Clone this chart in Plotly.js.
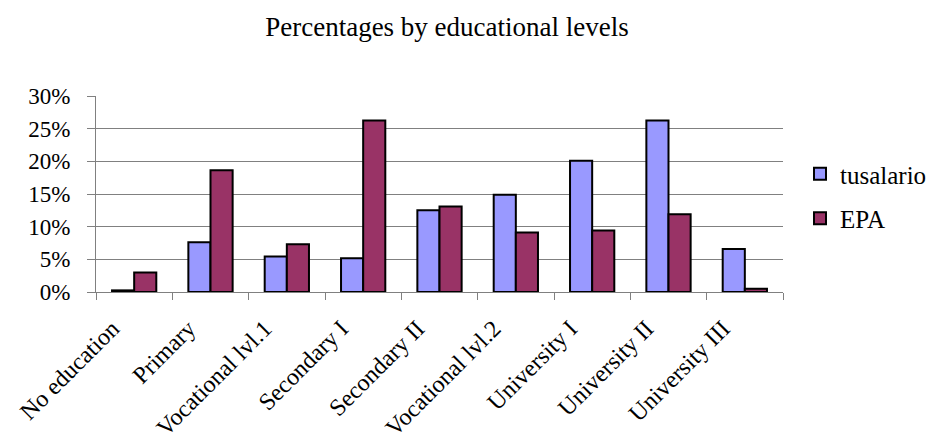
<!DOCTYPE html>
<html>
<head>
<meta charset="utf-8">
<script src="https://cdn.plot.ly/plotly-3.0.1.min.js"></script>
<style>html,body{margin:0;padding:0;background:#fff;}#chart{width:930px;height:445px;}</style>
</head>
<body>
<div id="chart"></div>
<script>
const categories = ["No education", "Primary", "Vocational lvl.1", "Secondary I", "Secondary II", "Vocational lvl.2", "University I", "University II", "University III"];
const tusalario = [0.0025, 0.076, 0.0545, 0.0515, 0.125, 0.149, 0.201, 0.2625, 0.066];
const epa = [0.030, 0.1865, 0.073, 0.2625, 0.131, 0.091, 0.094, 0.119, 0.005];
const yTickVals = [0, 0.05, 0.10, 0.15, 0.20, 0.25, 0.30];
const yTickText = ["0%", "5%", "10%", "15%", "20%", "25%", "30%"];

const font = "Liberation Serif, Times New Roman, serif";
const data = [
  {type: "bar", name: "tusalario", x: categories, y: tusalario, legendgroup: "a",
   marker: {color: "#9999FF", line: {color: "#000", width: 2}}},
  {type: "bar", name: "EPA", x: categories, y: epa, legendgroup: "b",
   marker: {color: "#993366", line: {color: "#000", width: 2}}}
];
const layout = {
  width: 930, height: 445,
  margin: {l: 96, r: 147, t: 96, b: 153},
  paper_bgcolor: "#fff", plot_bgcolor: "#fff",
  font: {family: font, size: 22, color: "#000"},
  title: {text: "Percentages by educational levels", font: {family: font, size: 27, color: "#000"},
          x: 447/930, xref: "container", xanchor: "center", y: 1 - 27/445, yref: "container", yanchor: "middle"},
  barmode: "group", bargap: 0.42, bargroupgap: 0,
  xaxis: {type: "category", showgrid: false, showline: true, linecolor: "#808080", linewidth: 1,
          ticks: "outside", tickson: "boundaries", ticklen: 7, tickcolor: "#808080",
          tickangle: -45, ticklabelshift: -22, ticklabelstandoff: 12,
          tickfont: {family: font, size: 24, color: "#000"}},
  yaxis: {range: [0, 0.30], tickvals: yTickVals, ticktext: yTickText, showgrid: true,
          gridcolor: "#808080", gridwidth: 1, showline: true, linecolor: "#808080", linewidth: 1,
          ticks: "outside", ticklen: 8, tickcolor: "#808080", zeroline: false, ticklabelstandoff: 12,
          tickfont: {family: font, size: 23, color: "#000"}},
  legend: {x: 800/930, xref: "container", y: 1 - 151/445, yref: "container", yanchor: "top", xanchor: "left",
           font: {family: font, size: 25, color: "#000"}, traceorder: "grouped", tracegroupgap: 9,
           bgcolor: "rgba(0,0,0,0)"},
  showlegend: true
};
Plotly.newPlot("chart", data, layout, {displayModeBar: false, staticPlot: true});
</script>
</body>
</html>
